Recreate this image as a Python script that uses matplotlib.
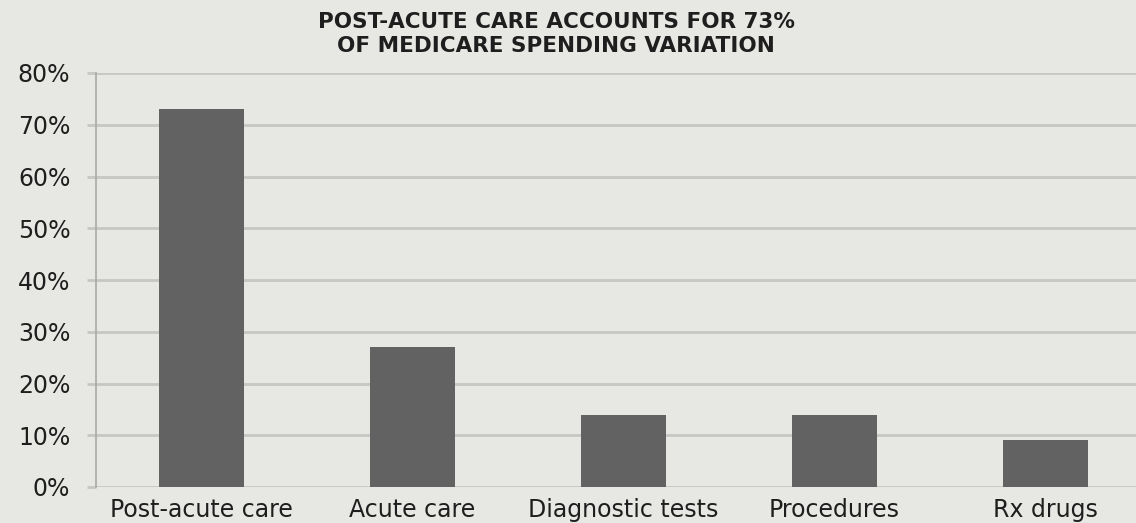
import matplotlib
matplotlib.use("Agg")
import matplotlib.pyplot as plt
from matplotlib.ticker import FuncFormatter

categories = ["Post-acute care", "Acute care", "Diagnostic tests", "Procedures", "Rx drugs"]
values = [73, 27, 14, 14, 9]
yticks = [0, 10, 20, 30, 40, 50, 60, 70, 80]
title = "POST-ACUTE CARE ACCOUNTS FOR 73%\nOF MEDICARE SPENDING VARIATION"

plt.rcParams['font.family'] = ['DejaVu Sans']
bg = "#e7e7e4"
fig = plt.figure(figsize=(11.36, 5.23), dpi=100, facecolor=bg)
ax = fig.add_axes([96/1136, 36/523, 1055/1136, 414/523])
ax.set_facecolor(bg)

x = list(range(len(categories)))
ax.bar(x, values, width=0.4, color="#626262", zorder=3)
ax.set_xlim(-0.5, len(categories) - 0.5)
ax.set_ylim(0, 80)
ax.set_yticks(yticks)
ax.yaxis.set_major_formatter(FuncFormatter(lambda v, p: f"{int(v)}%"))
ax.grid(axis='y', color="#c6c6c4", linewidth=2, zorder=0)
ax.set_xticks(x)
ax.set_xticklabels(categories)
ax.tick_params(axis='x', length=0, labelsize=17, pad=8, colors="#1e1e1e")
ax.tick_params(axis='y', length=6.5, width=2, color="#c6c6c4", labelsize=17, pad=12, labelcolor="#1e1e1e")
for s in ['top', 'right', 'bottom']:
    ax.spines[s].set_visible(False)
ax.spines['left'].set_color("#a8a8a8")
ax.spines['left'].set_linewidth(1.2)

fig.text(556/1136, 1 - 34/523, title, ha='center', va='center', fontsize=15.5,
         fontweight='bold', color="#1e1e1e", linespacing=1.2)

fig.savefig("out.png", dpi=100, facecolor=bg)
